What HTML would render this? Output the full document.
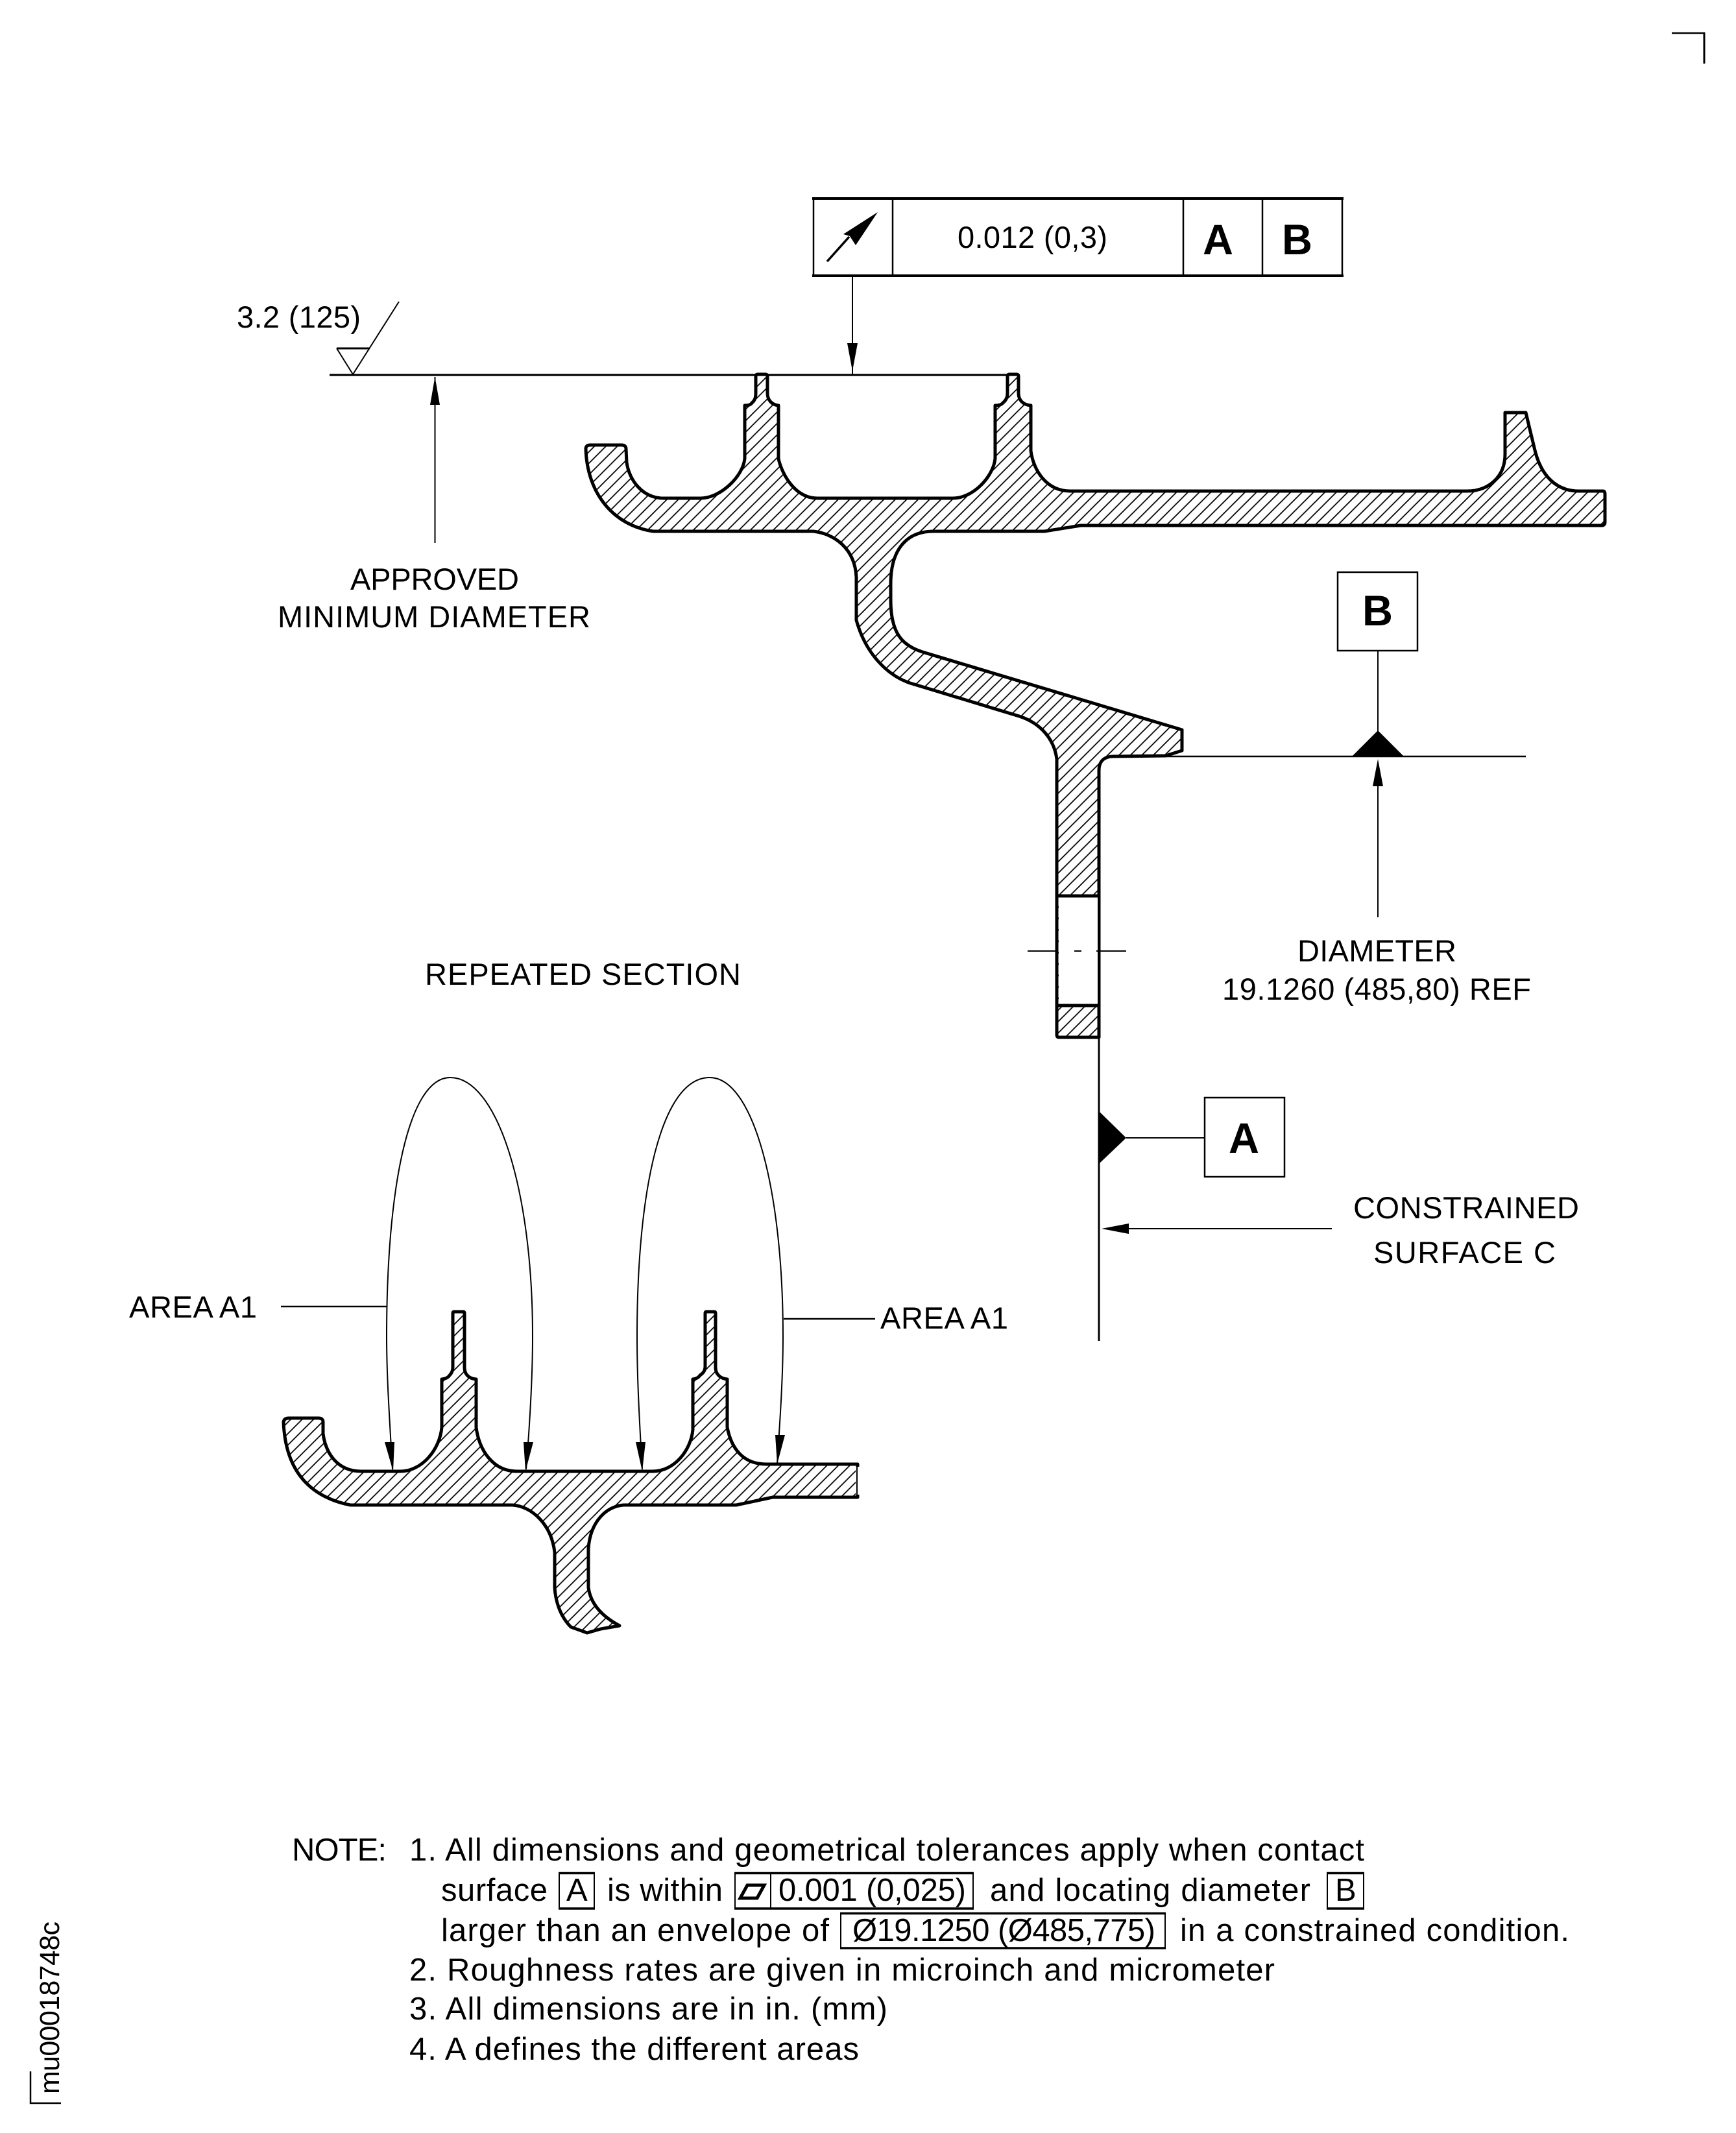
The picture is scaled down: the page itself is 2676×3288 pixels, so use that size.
<!DOCTYPE html>
<html><head><meta charset="utf-8"><style>
html,body{margin:0;padding:0;background:#fff}
svg{display:block}
text{font-family:"Liberation Sans",sans-serif;font-size:47px;fill:#000}
.b{font-weight:bold;font-size:66px}
.n{font-size:49px}
</style></head><body>
<svg xmlns="http://www.w3.org/2000/svg" width="2676" height="3288" viewBox="0 0 2676 3288">
<defs>
<pattern id="h" patternUnits="userSpaceOnUse" width="17.6" height="17.6" patternTransform="translate(2.7,0)">
<path d="M-2,19.6L19.6,-2M-2,2L2,-2M15.6,19.6L19.6,15.6" stroke="#000" stroke-width="1.8" fill="none"/>
</pattern>
<pattern id="h2" patternUnits="userSpaceOnUse" width="17.6" height="17.6" patternTransform="translate(13.7,0)">
<path d="M-2,19.6L19.6,-2M-2,2L2,-2M15.6,19.6L19.6,15.6" stroke="#000" stroke-width="1.8" fill="none"/>
</pattern>
</defs>
<rect width="2676" height="3288" fill="#fff"/>

<!-- corners -->
<path d="M2577,51H2628" stroke="#000" stroke-width="2.5" fill="none"/>
<path d="M2627,50V98" stroke="#000" stroke-width="3" fill="none"/>
<path d="M47,3193V3242H94" stroke="#000" stroke-width="2.5" fill="none"/>
<text transform="translate(91,3228) rotate(-90)" style="font-size:43px" textLength="266">mu00018748c</text>

<!-- feature control frame -->
<path d="M1254,306V425M2069,306V425M1376,306V425M1824,306V425M1946,306V425" stroke="#000" stroke-width="2.5" fill="none"/>
<path d="M1252,306H2071M1252,425H2071" stroke="#000" stroke-width="4" fill="none"/>
<path d="M1275,403L1309,365" stroke="#000" stroke-width="3.5" fill="none"/>
<polygon points="1353,327 1319,378 1310,364 1300,361" fill="#000"/>
<text x="1476" y="382" textLength="231">0.012 (0,3)</text>
<text class="b" x="1854" y="392" textLength="47" lengthAdjust="spacingAndGlyphs">A</text>
<text class="b" x="1976" y="392" textLength="47" lengthAdjust="spacingAndGlyphs">B</text>

<!-- arrow from frame -->
<path d="M1314,425V578" stroke="#000" stroke-width="2" fill="none"/>
<polygon points="1306,529 1322,529 1314,572" fill="#000"/>

<!-- upper profile -->
<path fill="url(#h)" stroke="#000" stroke-width="5" stroke-linejoin="round" d="M903,692Q903,686 910,686L958,686Q965,686 965,692L966,713C970,740 990,768 1023,768L1080,768C1110,768 1145,735 1148,707L1148,625Q1157,625 1159,621C1164,617 1165,612 1165,606L1165,580Q1165,577 1168,577L1180,577Q1183,577 1183,580L1183,606C1183,617 1190,624 1200,625L1200,707C1205,730 1225,768 1260,768L1469,768C1500,768 1531,735 1534,707L1534,625Q1543,625 1546,621C1551,617 1553,612 1553,606L1553,580Q1553,577 1556,577L1567,577Q1570,577 1570,580L1570,606C1570,617 1577,624 1589,625L1589,695C1593,725 1613,757 1650,757L2261,757C2295,757 2320,735 2320,700L2320,636L2352,636L2365,690C2375,735 2400,757 2434,757L2471,757Q2474,757 2474,762L2474,805Q2474,810 2469,810L1666,810L1610,819L1439,819C1395,819 1373,850 1373,900L1373,925C1373,975 1390,995 1422,1005L1822,1125L1822,1157L1797,1165L1717,1166Q1694,1166 1694,1188L1694,1599L1632,1599Q1629,1599 1629,1595L1629,1170C1625,1140 1605,1115 1571,1104L1403,1053C1370,1042 1335,1010 1320,956L1320,890C1318,845 1285,822 1253,819L1007,819C945,810 905,760 903,692Z"/>
<!-- hole -->
<rect x="1632" y="1381" width="60" height="169" fill="#fff"/>
<path d="M1629,1381H1694M1629,1550H1694" stroke="#000" stroke-width="5" fill="none"/>
<path d="M1584,1466H1629M1656,1466H1667M1690,1466H1736" stroke="#000" stroke-width="2" fill="none"/>

<!-- datum / approved line -->
<path d="M508,578H1566" stroke="#000" stroke-width="3.2" fill="none"/>
<path d="M1797,1166H2352" stroke="#000" stroke-width="2.5" fill="none"/>
<path d="M1694,1595V2067" stroke="#000" stroke-width="3" fill="none"/>

<!-- surface symbol -->
<path d="M519,537H570" stroke="#000" stroke-width="3" fill="none"/>
<path d="M519,537L544,577L615,465" stroke="#000" stroke-width="2" fill="none"/>

<!-- approved arrow -->
<path d="M670.5,581V837" stroke="#000" stroke-width="2" fill="none"/>
<polygon points="663,624 678,624 670.5,581" fill="#000"/>
<text x="540" y="909" textLength="260">APPROVED</text>
<text x="428" y="967" textLength="482">MINIMUM DIAMETER</text>
<text x="365" y="505" textLength="191">3.2 (125)</text>

<!-- datum B -->
<rect x="2062" y="882" width="123" height="121" fill="none" stroke="#000" stroke-width="2.5"/>
<text class="b" x="2100" y="964" textLength="47" lengthAdjust="spacingAndGlyphs">B</text>
<path d="M2124,1003V1130" stroke="#000" stroke-width="2" fill="none"/>
<polygon points="2124,1126 2083,1167 2165,1167" fill="#000"/>
<path d="M2124,1212V1414" stroke="#000" stroke-width="2" fill="none"/>
<polygon points="2124,1170 2116,1212 2132,1212" fill="#000"/>
<text x="2000" y="1482" textLength="245">DIAMETER</text>
<text x="1884" y="1541" textLength="476">19.1260 (485,80) REF</text>

<!-- datum A -->
<rect x="1857" y="1692" width="123" height="122" fill="none" stroke="#000" stroke-width="2.5"/>
<text class="b" x="1894" y="1777" textLength="47" lengthAdjust="spacingAndGlyphs">A</text>
<path d="M1736,1754H1857" stroke="#000" stroke-width="2" fill="none"/>
<polygon points="1694,1713 1736,1754 1694,1794" fill="#000"/>

<!-- constrained arrow -->
<path d="M1740,1894H2053" stroke="#000" stroke-width="2" fill="none"/>
<polygon points="1698,1894 1740,1886 1740,1902" fill="#000"/>
<text x="2086" y="1878" textLength="348">CONSTRAINED</text>
<text x="2117" y="1947" textLength="281">SURFACE C</text>

<text x="655" y="1518" textLength="487">REPEATED SECTION</text>

<!-- area labels -->
<text x="199" y="2031" textLength="197">AREA A1</text>
<text x="1357" y="2048" textLength="197">AREA A1</text>
<path d="M433,2014H596" stroke="#000" stroke-width="2.5" fill="none"/>
<path d="M1208,2033H1349" stroke="#000" stroke-width="2.5" fill="none"/>

<!-- lower profile -->
<path fill="url(#h2)" stroke="#000" stroke-width="5" stroke-linejoin="round" d="M437,2192Q438,2186 445,2186L491,2186Q498,2186 498,2192L498,2210C502,2240 520,2268 557,2268L617,2268C650,2268 678,2235 681,2200L681,2126Q690,2125 693,2120C697,2116 698,2112 698,2106L698,2024Q698,2022 700,2022L714,2022Q716,2022 716,2024L716,2108C716,2118 722,2125 734,2126L734,2200C738,2235 760,2268 797,2268L1006,2268C1040,2268 1065,2235 1068,2204L1068,2126Q1076,2125 1079,2120C1085,2116 1087,2112 1087,2106L1087,2024Q1087,2022 1089,2022L1101,2022Q1103,2022 1103,2024L1103,2108C1103,2118 1110,2125 1121,2126L1121,2200C1127,2232 1145,2257 1181,2257L1322,2257L1322,2308L1191,2308L1135,2320L961,2320C935,2322 910,2345 907,2387L907,2447C910,2470 925,2490 955,2506L926,2511L905,2517L880,2508C862,2490 856,2465 855,2447L855,2393C850,2350 820,2322 790,2320L540,2320C480,2308 440,2270 437,2192Z"/>
<path d="M1322,2261V2304" stroke="#fff" stroke-width="6" fill="none"/>
<path d="M1321,2259V2306" stroke="#000" stroke-width="2" fill="none"/>

<!-- ellipse arcs -->
<path d="M605,2265C600,2180 596,2120 596,2060C596,1830 630,1661 694,1661C765,1661 821,1830 821,2060C821,2120 817,2190 811,2265" fill="none" stroke="#000" stroke-width="2"/>
<path d="M990,2265C985,2180 982,2120 982,2060C982,1830 1020,1661 1094,1661C1160,1661 1207,1830 1207,2060C1207,2120 1203,2180 1198,2256" fill="none" stroke="#000" stroke-width="2"/>
<polygon points="593,2223 608,2223 606,2268" fill="#000"/>
<polygon points="807,2223 822,2223 810,2268" fill="#000"/>
<polygon points="980,2223 995,2223 990,2268" fill="#000"/>
<polygon points="1195,2212 1210,2212 1198,2257" fill="#000"/>

<!-- notes -->
<text class="n" x="450" y="2868" textLength="146">NOTE:</text>
<text class="n" x="631" y="2868" textLength="1472">1. All dimensions and geometrical tolerances apply when contact</text>
<text class="n" x="680" y="2930" textLength="164">surface</text>
<path d="M862,2887V2943M916,2887V2943" stroke="#000" stroke-width="2" fill="none"/>
<path d="M861,2887.5H917M861,2942H917" stroke="#000" stroke-width="3.5" fill="none"/>
<text class="n" x="873" y="2930" textLength="32">A</text>
<text class="n" x="936" y="2930" textLength="178">is within</text>
<path d="M1133,2887V2943M1188,2887V2943M1500,2887V2943" stroke="#000" stroke-width="2" fill="none"/>
<path d="M1132,2887.5H1501M1132,2942H1501" stroke="#000" stroke-width="3.5" fill="none"/>
<polygon points="1152,2906 1178,2906 1167,2926 1141,2926" fill="none" stroke="#000" stroke-width="5"/>
<text class="n" x="1200" y="2930" textLength="289">0.001 (0,025)</text>
<text class="n" x="1526" y="2930" textLength="494">and locating diameter</text>
<path d="M2046,2887V2943M2102,2887V2943" stroke="#000" stroke-width="2" fill="none"/>
<path d="M2045,2887.5H2103M2045,2942H2103" stroke="#000" stroke-width="3.5" fill="none"/>
<text class="n" x="2058" y="2930" textLength="32">B</text>
<text class="n" x="680" y="2992" textLength="598">larger than an envelope of</text>
<path d="M1296,2949V3004M1796,2949V3004" stroke="#000" stroke-width="2" fill="none"/>
<path d="M1295,2949.5H1797M1295,3003H1797" stroke="#000" stroke-width="3.5" fill="none"/>
<text class="n" x="1314" y="2992" textLength="467">Ø19.1250 (Ø485,775)</text>
<text class="n" x="1819" y="2992" textLength="600">in a constrained condition.</text>
<text class="n" x="631" y="3053" textLength="1334">2. Roughness rates are given in microinch and micrometer</text>
<text class="n" x="631" y="3113" textLength="737">3. All dimensions are in in. (mm)</text>
<text class="n" x="631" y="3175" textLength="693">4. A defines the different areas</text>
</svg>
</body></html>
